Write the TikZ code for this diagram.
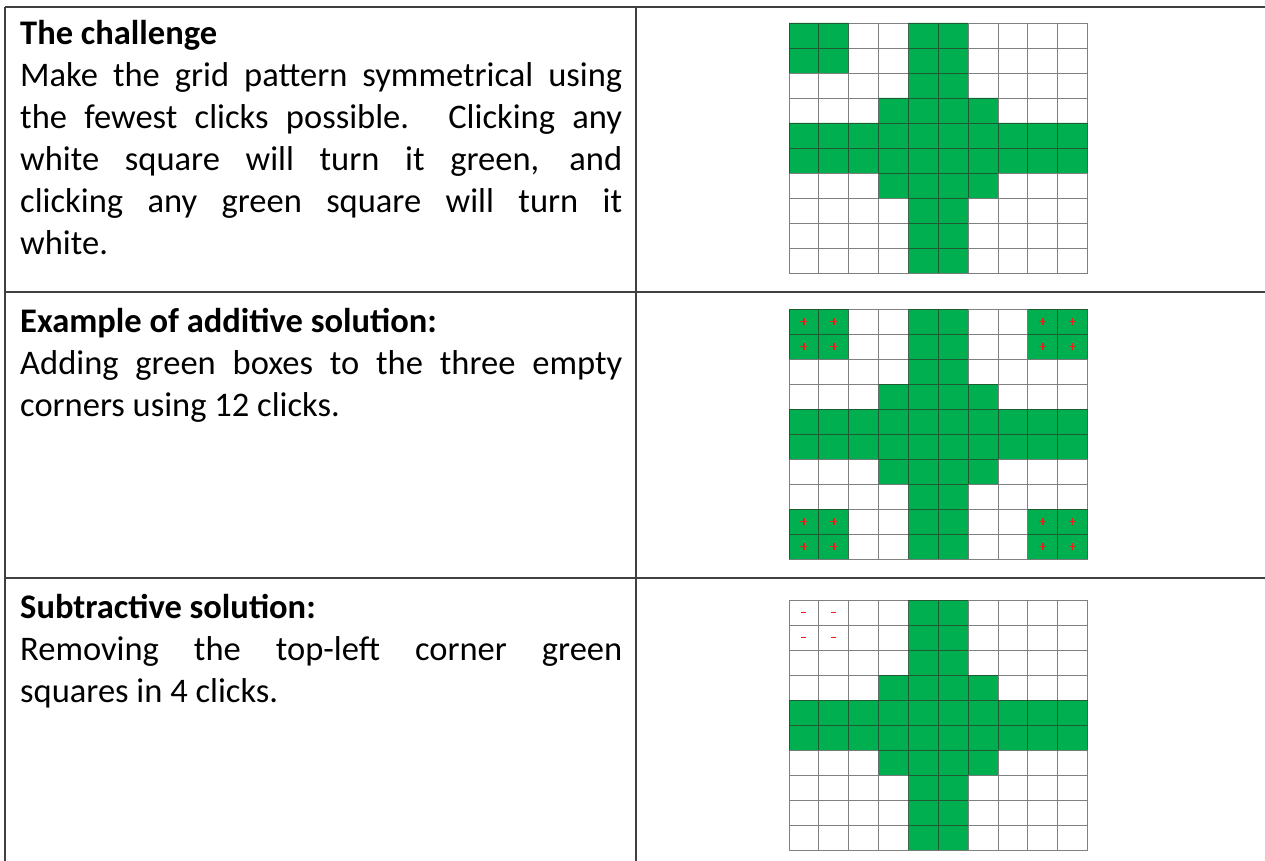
\documentclass[tikz,border=0pt]{standalone}
\usepackage{fontspec}
\setmainfont{Carlito}
\definecolor{cellgreen}{HTML}{00B050}
\definecolor{markred}{HTML}{E8201A}
\definecolor{gridgray}{HTML}{808080}
\definecolor{griddark}{HTML}{1F5A32}
\newcommand{\celltext}[2]{\vtop{\hsize=602pt\parindent=0pt\tolerance=9999%
\hyphenpenalty=10000\exhyphenpenalty=10000%
\fontsize{34.5}{42}\selectfont\textbf{#1}\par #2\par}}
\newcommand{\crosspath}{(4,0) rectangle (6,10) (3,3) rectangle (7,7) (0,4) rectangle (10,6)}
\newcommand{\gridlines}[1]{\foreach \i in {0,...,10} {\draw[#1] (\i,0) -- (\i,10); \draw[#1] (0,\i) -- (10,\i);}}
\tikzset{
  tableline/.style={line width=1.8pt,black!75},
  gridline/.style={line width=0.9pt,gridgray},
  greenline/.style={line width=0.9pt,griddark},
  plusmark/.style={line width=1.8pt,markred},
}
\begin{document}
\begin{tikzpicture}[x=1pt,y=-1pt]
\useasboundingbox (0,0) rectangle (1265,861);
% table
\draw[tableline] (5,7) -- (1265,7);
\draw[tableline] (5,292) -- (1265,292);
\draw[tableline] (5,578) -- (1265,578);
\draw[tableline] (5,7) -- (5,861);
\draw[tableline] (636,7) -- (636,861);
% left column texts
\node[anchor=base west,inner sep=0] (challenge) at (20,45) {\celltext{The challenge}{Make the grid pattern symmetrical using\linebreak the fewest clicks possible. Clicking any\linebreak white square will turn it green, and\linebreak clicking any green square will turn it\linebreak white.}};
\node[anchor=base west,inner sep=0] (additive) at (20,332) {\celltext{Example of additive solution:}{Adding green boxes to the three empty\linebreak corners using 12 clicks.}};
\node[anchor=base west,inner sep=0] (subtractive) at (20,618) {\celltext{Subtractive solution:}{Removing the top-left corner green\linebreak squares in 4 clicks.}};
% grid 1: the challenge
\begin{scope}[shift={(789,23)},x=29.85pt,y=-25pt]
\fill[cellgreen] \crosspath (0,0) rectangle (2,2);
\gridlines{gridline}
\begin{scope}
\clip \crosspath (0,0) rectangle (2,2);
\gridlines{greenline}
\end{scope}
\end{scope}
% grid 2: additive
\begin{scope}[shift={(789,309)},x=29.85pt,y=-25pt]
\fill[cellgreen] \crosspath (0,0) rectangle (2,2) (8,0) rectangle (10,2)
  (0,8) rectangle (2,10) (8,8) rectangle (10,10);
\gridlines{gridline}
\begin{scope}
\clip \crosspath (0,0) rectangle (2,2) (8,0) rectangle (10,2)
  (0,8) rectangle (2,10) (8,8) rectangle (10,10);
\gridlines{greenline}
\end{scope}
\foreach \cx in {0,1,8,9}
  \foreach \ry in {0,1,8,9}
    \draw[plusmark] (\cx+0.5,\ry+0.5) +(-3.5pt,0) -- +(3.5pt,0) +(0,-3.5pt) -- +(0,3.5pt);
\end{scope}
% grid 3: subtractive
\begin{scope}[shift={(789,600)},x=29.85pt,y=-25pt]
\fill[cellgreen] \crosspath;
\gridlines{gridline}
\begin{scope}
\clip \crosspath;
\gridlines{greenline}
\end{scope}
\foreach \cx in {0,1}
  \foreach \ry in {0,1}
    \draw[plusmark] (\cx+0.5,\ry+0.5) +(-2.5pt,0) -- +(2.5pt,0);
\end{scope}
\end{tikzpicture}
\end{document}
